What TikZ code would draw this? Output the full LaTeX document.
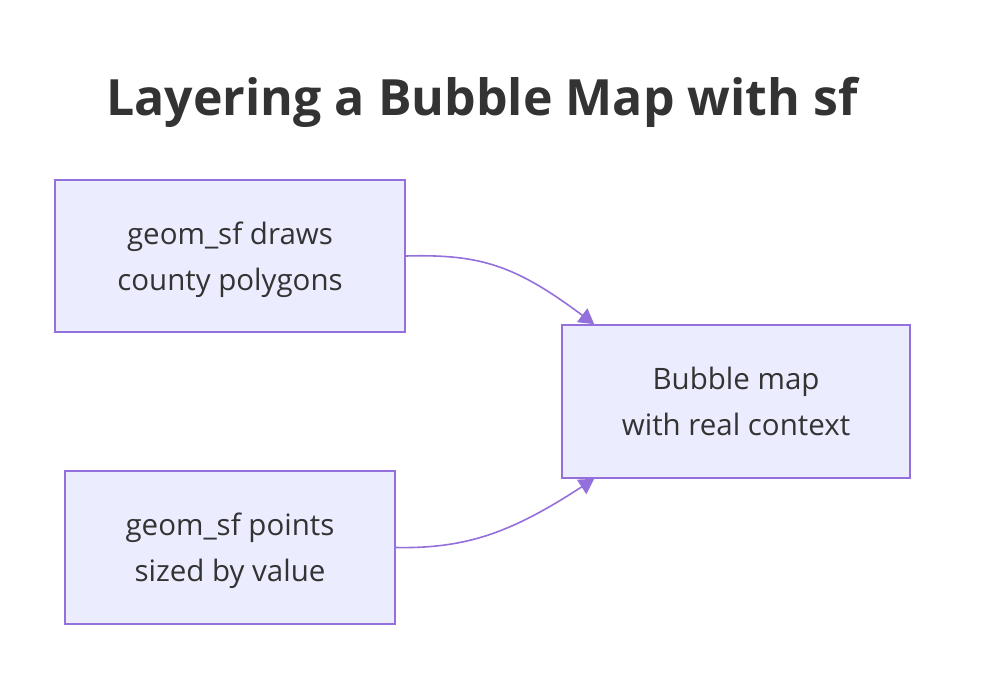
\documentclass[tikz,border=0pt]{standalone}
\usepackage{fontspec}
\setmainfont{Open Sans}
\usetikzlibrary{arrows.meta}
\definecolor{boxfill}{HTML}{ECECFF}
\definecolor{boxline}{HTML}{9370DB}
\definecolor{txt}{HTML}{333333}

\begin{document}
\begin{tikzpicture}[x=1pt,y=-1pt,
    block/.style={align=center,rectangle,draw=boxline,fill=boxfill,line width=1.6pt,text=txt,font=\fontsize{29.5}{46}\selectfont,inner sep=0pt,text depth=0pt},
    link/.style={draw=boxline,line width=1.6pt,-{Triangle[length=15pt,width=17pt]}}]
        \useasboundingbox (0,0) rectangle (982,690);
        \node [text=txt,font=\bfseries\fontsize{50}{60}\selectfont] (title) at (482,102) {Layering a Bubble Map with sf};
        \node [block,minimum width=350pt,minimum height=152pt] (draws) at (230,256) {geom\_sf draws\\county polygons};
        \node [block,minimum width=330pt,minimum height=153pt] (points) at (230,547.5) {geom\_sf points\\sized by value};
        \node [block,minimum width=348pt,minimum height=153pt] (map) at (736,401.5) {Bubble map\\with real context};
        \coordinate (in1) at ([xshift=33pt]map.north west);
        \coordinate (in2) at ([xshift=33pt]map.south west);
        \draw[link] (draws.east) .. controls (480,254) and (515,265) .. (in1);
        \draw[link] (points.west -| points.east) .. controls (470,549) and (515,530) .. (in2);
    \end{tikzpicture}
\end{document}
